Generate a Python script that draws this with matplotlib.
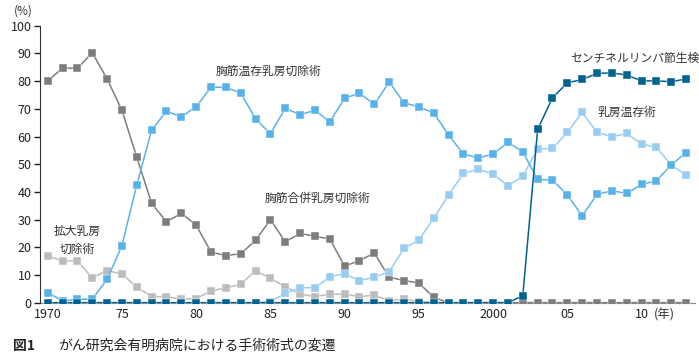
import matplotlib as mpl
mpl.use('Agg')
import matplotlib.pyplot as plt
import numpy as np

plt.rcParams['font.family'] = ['Noto Sans CJK JP', 'DejaVu Sans']

years = list(range(1970, 2014))

# 胸筋合併乳房切除術
halsted = [80, 84.8, 84.6, 90.3, 80.8, 69.5, 52.5, 35.9, 29.2, 32.3,
           28, 18.3, 17, 17.7, 22.5, 30, 22, 25, 24, 23,
           13.2, 15.2, 17.9, 9.2, 8, 7.1, 1.9, 0, 0, 0,
           0, 0, 0, 0, 0, 0, 0, 0, 0, 0,
           0, 0, 0, 0]
# 拡大乳房切除術
extended = [16.9, 15.1, 15.1, 9, 11.6, 10.4, 5.6, 2.2, 2.2, 1.3,
            1.5, 4.2, 5.4, 6.6, 11.6, 8.8, 5.8, 3.1, 2.2, 3.1,
            3.1, 2.2, 2.7, 0.7, 1.3, 0.4, 0, 0, 0, 0,
            0, 0, 0, 0, 0, 0, 0, 0, 0, 0,
            0, 0, 0, 0]
# 胸筋温存乳房切除術
modified = [3.6, 0.7, 1.2, 1.3, 8.4, 20.6, 42.6, 62.3, 69.2, 67.1,
            70.8, 77.8, 77.8, 75.7, 66.4, 61, 70.2, 67.9, 69.5, 65.3,
            73.8, 75.7, 71.6, 79.7, 72.2, 70.7, 68.5, 60.6, 53.7, 52.3,
            53.7, 57.9, 54.5, 44.5, 44.3, 38.9, 31.4, 39.1, 40.4, 39.5,
            42.7, 44, 49.8, 54.2]
# 乳房温存術
conserving = [0, 0, 0, 0, 0, 0, 0, 0, 0, 0,
              0, 0, 0, 0, 0, 0.4, 3.4, 5.4, 5.4, 9.4,
              10.4, 8, 9.2, 11.2, 19.6, 22.6, 30.5, 38.9, 46.7, 48.2,
              46.5, 42.2, 45.7, 55.5, 55.7, 61.5, 68.7, 61.5, 59.9, 61.1,
              57.3, 56.1, 49.7, 46.1]
# センチネルリンパ節生検
sentinel = [0] * 32 + [2.5, 62.6, 74, 79.4, 80.6, 82.8, 83, 82.2,
                       80.1, 80.1, 79.8, 80.8]

xtick_pos = [1970, 1975, 1980, 1985, 1990, 1995, 2000, 2005, 2010]
xtick_lab = ['1970', '75', '80', '85', '90', '95', '2000', '05', '10']

fig = plt.figure(figsize=(6.99, 3.58), dpi=100)
ax = fig.add_axes([0.0572, 0.1545, 0.9371, 0.7735])

kw = dict(marker='s', markersize=5.8, lw=1.1, mec='white', mew=0.3)
ax.plot(years, extended, color='#bcbcbc', zorder=2, **kw)
ax.plot(years, halsted, color='#7d7d7d', zorder=3, **kw)
ax.plot(years, conserving, color='#98ccf2', zorder=4, **kw)
ax.plot(years, modified, color='#58b2ea', zorder=5, **kw)
ax.plot(years, sentinel, color='#00628f', zorder=6, **kw)

ax.set_xlim(1969.48, 2013.6)
ax.set_ylim(0, 100)
ax.set_yticks(range(0, 101, 10))
ax.set_xticks(xtick_pos)
ax.set_xticklabels(xtick_lab)
ax.tick_params(axis='x', length=0, pad=4, labelsize=9, colors='#222222')
ax.tick_params(axis='y', length=4, width=1, direction='out', labelsize=9,
               colors='#222222', pad=2)
for s in ['top', 'right']:
    ax.spines[s].set_visible(False)
ax.spines['left'].set_color('#333333')
ax.spines['bottom'].set_color('#888888')
ax.spines['bottom'].set_zorder(1)

tk = dict(fontsize=8.5, color='#333333', ha='center', va='center')
ax.text(1984.9, 83.6, '胸筋温存乳房切除術', **tk)
ax.text(1972.0, 22.6, '拡大乳房\n切除術', linespacing=1.5, **tk)
ax.text(1988.2, 37.8, '胸筋合併乳房切除術', **tk)
ax.text(2009.55, 88.3, 'センチネルリンパ節生検', **tk)
ax.text(2009.0, 68.8, '乳房温存術', **tk)

fig.text(23 / 699, 1 - 11 / 358, '(%)', fontsize=8.5, color='#333333',
         ha='center', va='center')
fig.text(664 / 699, 1 - 315 / 358, '(年)', fontsize=9, color='#333333',
         ha='center', va='center')
fig.text(13 / 699, 1 - 346 / 358, '図1', fontsize=10, weight='bold',
         color='#222222', ha='left', va='center')
fig.text(58 / 699, 1 - 346 / 358, 'がん研究会有明病院における手術術式の変遷',
         fontsize=10, color='#222222', ha='left', va='center')

plt.savefig('out.png', dpi=100)
plt.close()
